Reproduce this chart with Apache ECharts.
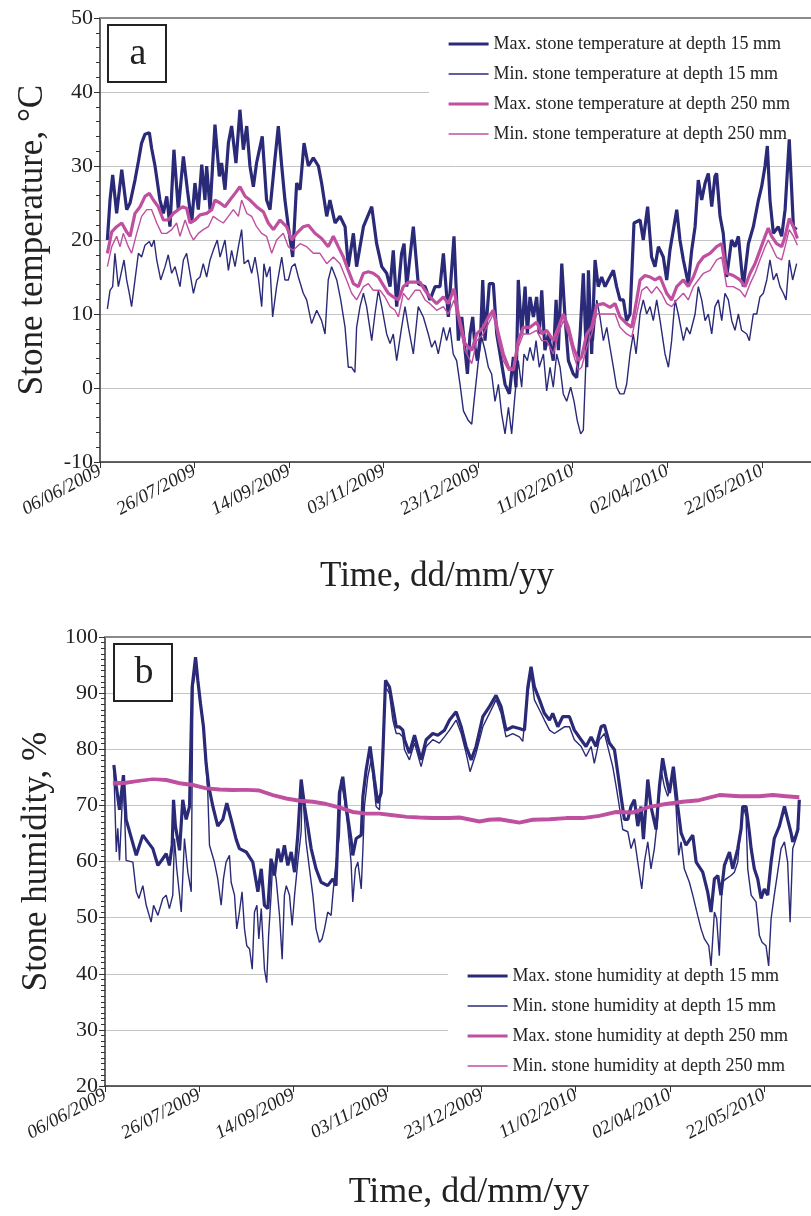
<!DOCTYPE html>
<html>
<head>
<meta charset="utf-8">
<script src="https://cdn.jsdelivr.net/npm/echarts@6/dist/echarts.min.js"></script>
<style>
  html, body { margin: 0; padding: 0; background: #fff; }
  #chart { width: 811px; height: 1216px; }
</style>
</head>
<body>
<div id="chart"></div>
<script>
// Day 0 = 06/06/2009; x values are days since that date.
const dateTicks = ['06/06/2009', '26/07/2009', '14/09/2009', '03/11/2009',
                   '23/12/2009', '11/02/2010', '02/04/2010', '22/05/2010'];

const tempNames = ['Max. stone temperature at depth 15 mm', 'Min. stone temperature at depth 15 mm',
                   'Max. stone temperature at depth 250 mm', 'Min. stone temperature at depth 250 mm'];
const humNames = ['Max. stone humidity at depth 15 mm', 'Min. stone humidity at depth 15 mm',
                  'Max. stone humidity at depth 250 mm', 'Min. stone humidity at depth 250 mm'];

// Stone temperature, °C  [day, value]
const tempMax15 = [[3.9,20.0],[5.3,25.4],[6.7,28.8],[8.8,23.6],[11.5,29.5],[14.1,24.1],[15.9,25.0],[18.5,28.1],[20.3,30.6],[22.0,33.1],[23.8,34.3],[26.1,34.5],[27.3,32.4],[29.1,30.0],[31.7,25.4],[33.5,23.6],[35.3,25.9],[37.0,21.8],[39.1,32.2],[41.4,24.1],[44.1,31.3],[46.2,26.8],[48.5,22.3],[50.2,27.7],[52.0,24.1],[53.8,30.2],[55.5,25.4],[56.4,30.0],[58.2,24.1],[60.8,35.6],[63.1,28.6],[64.3,30.4],[66.1,26.8],[67.9,33.1],[69.6,35.4],[71.9,30.4],[74.0,37.6],[75.8,32.2],[77.6,35.4],[79.3,30.0],[81.1,27.2],[82.8,30.4],[85.8,34.0],[88.1,25.4],[89.9,24.1],[92.5,30.9],[94.3,35.4],[96.1,30.0],[97.8,25.4],[99.6,21.8],[101.9,17.7],[104.0,27.7],[105.8,26.8],[107.9,33.1],[110.2,30.0],[112.8,31.1],[115.5,30.0],[117.2,27.7],[119.9,23.2],[121.6,25.4],[124.3,22.3],[126.9,23.2],[129.6,21.8],[131.3,16.4],[134.0,20.9],[135.7,16.4],[139.3,21.8],[143.7,24.5],[146.3,19.5],[149.0,16.4],[151.6,15.5],[153.4,13.7],[155.1,18.6],[156.9,11.0],[159.5,18.2],[160.8,19.5],[162.2,13.7],[165.7,21.8],[168.3,14.1],[171.9,13.7],[174.5,11.9],[177.2,13.7],[179.8,13.7],[181.6,18.2],[184.2,9.6],[187.2,20.5],[189.5,6.4],[191.3,9.6],[194.3,1.9],[195.7,7.3],[197.1,9.6],[198.3,5.5],[199.6,3.7],[201.3,7.3],[202.4,14.6],[203.6,6.4],[205.9,14.1],[208.0,14.1],[209.8,7.3],[214.2,0.5],[216.5,-0.8],[218.6,4.2],[220.0,0.1],[221.2,14.6],[223.0,7.3],[224.8,13.7],[226.0,7.3],[227.4,12.3],[229.2,9.6],[230.9,12.3],[232.3,7.3],[233.6,13.2],[235.3,5.1],[237.1,7.3],[239.7,3.7],[241.2,11.9],[242.4,5.1],[244.2,16.8],[245.9,9.6],[247.7,3.7],[250.3,1.9],[252.1,1.4],[253.9,7.3],[255.6,15.5],[257.4,2.8],[258.3,15.9],[260.0,4.6],[261.8,17.3],[263.5,13.7],[265.3,15.0],[267.1,13.7],[268.8,14.6],[271.5,15.9],[273.2,13.7],[275.0,11.9],[276.8,11.9],[278.5,9.1],[280.3,10.0],[282.4,22.3],[285.6,22.7],[287.3,20.0],[289.6,24.5],[291.7,17.7],[293.5,16.4],[295.3,19.1],[297.9,17.7],[299.7,14.6],[301.4,18.6],[305.0,24.1],[306.7,20.0],[308.5,17.3],[311.1,14.1],[312.9,18.6],[314.7,21.8],[316.4,28.1],[318.2,25.4],[320.0,27.7],[321.7,29.0],[323.5,24.5],[325.2,28.6],[326.1,29.0],[327.9,23.2],[329.6,20.9],[331.4,15.0],[334.0,20.0],[335.8,19.1],[337.6,20.5],[340.2,13.7],[342.9,19.5],[345.5,21.8],[348.2,25.4],[349.9,27.2],[351.7,30.0],[352.9,32.7],[354.3,25.4],[356.1,20.9],[358.7,21.8],[360.5,20.5],[362.3,24.1],[364.5,33.6],[366.7,21.8],[368.4,21.4]];

const tempMin15 = [[3.9,10.7],[5.3,13.2],[6.7,13.7],[7.9,18.2],[9.7,13.7],[11.5,15.9],[12.7,17.3],[14.1,14.6],[15.5,12.8],[16.7,11.0],[18.5,14.6],[20.3,18.2],[22.0,17.7],[23.8,19.3],[26.1,19.8],[27.3,19.1],[28.6,20.0],[30.0,17.3],[32.1,14.6],[34.4,16.4],[36.1,18.0],[37.9,15.5],[39.7,16.4],[42.3,13.7],[44.1,17.3],[45.8,18.2],[47.6,15.5],[49.4,12.8],[51.1,14.6],[52.9,15.0],[54.6,16.8],[56.4,15.0],[58.2,17.3],[59.9,18.6],[62.0,20.0],[63.5,17.7],[66.1,20.0],[67.9,15.9],[69.6,18.6],[71.4,16.4],[73.2,19.1],[74.9,21.4],[76.2,16.8],[78.4,17.3],[80.2,15.5],[82.0,17.7],[83.7,15.0],[85.5,11.0],[86.7,16.8],[88.1,15.0],[89.9,16.4],[91.3,9.6],[93.4,13.7],[96.1,17.7],[97.8,14.6],[99.6,14.6],[101.4,16.4],[103.1,16.8],[104.9,15.0],[107.5,12.8],[109.3,11.9],[111.9,8.7],[114.6,10.5],[117.2,9.1],[119.0,7.3],[120.7,14.6],[122.5,16.4],[125.2,14.6],[127.3,11.9],[129.6,8.2],[131.3,2.8],[133.1,2.8],[134.8,2.1],[135.7,8.2],[137.5,11.0],[139.3,12.8],[141.0,11.0],[143.7,6.4],[145.4,10.0],[147.2,13.2],[149.0,11.0],[151.6,7.3],[153.4,6.0],[155.1,7.3],[156.9,3.7],[159.5,8.2],[161.3,11.0],[163.1,8.2],[165.7,4.6],[168.3,11.0],[171.0,9.6],[173.6,7.3],[175.4,5.5],[177.2,6.4],[178.9,4.6],[181.6,8.2],[183.3,6.4],[185.1,8.2],[186.8,4.6],[188.6,3.7],[190.4,0.5],[192.2,-3.1],[194.8,-4.4],[196.6,-4.9],[197.8,-1.8],[200.1,3.7],[201.8,6.9],[203.6,5.1],[205.4,2.8],[207.1,1.9],[208.9,-1.8],[210.7,0.5],[212.4,-3.5],[214.2,-6.2],[216.0,-2.6],[217.7,-6.2],[219.5,-0.8],[221.2,3.7],[223.0,0.1],[224.2,4.6],[226.0,3.7],[227.4,5.5],[229.2,3.7],[230.6,6.4],[232.3,2.8],[234.5,4.6],[236.2,-0.4],[238.0,2.8],[239.7,0.1],[241.5,4.6],[243.3,2.8],[245.0,-0.8],[246.8,-1.8],[248.9,0.1],[250.7,-1.8],[252.4,-4.4],[254.2,-6.2],[255.6,-5.7],[257.4,6.4],[259.1,8.2],[260.9,6.4],[262.7,11.9],[264.4,9.6],[266.2,6.4],[268.0,8.2],[269.7,5.5],[271.5,2.8],[273.2,0.1],[275.0,-0.8],[277.1,-0.8],[278.5,0.5],[280.3,4.6],[282.0,7.3],[283.5,4.6],[285.6,10.0],[287.3,11.9],[289.1,10.0],[290.9,11.0],[292.6,9.1],[294.4,11.9],[296.2,9.1],[298.8,4.6],[300.6,2.8],[302.3,6.4],[304.1,11.9],[305.8,10.0],[308.5,6.4],[310.2,8.2],[312.0,7.3],[314.7,10.0],[316.4,13.7],[318.2,11.9],[320.0,9.1],[321.7,10.0],[323.5,7.3],[325.2,11.0],[327.0,11.9],[328.8,9.1],[330.5,12.8],[332.3,11.9],[334.1,9.1],[335.8,7.8],[337.6,10.0],[339.3,7.8],[342.0,7.3],[343.4,6.4],[345.5,10.0],[347.3,10.0],[349.0,12.3],[350.8,12.8],[352.6,14.6],[354.3,17.3],[356.1,14.6],[357.8,15.5],[359.6,13.7],[361.4,12.8],[362.8,11.9],[364.5,17.3],[366.3,14.6],[368.4,16.8]];

const tempMax250 = [[3.9,18.2],[6.2,21.1],[8.8,21.8],[11.5,22.3],[14.1,21.1],[15.9,20.5],[18.5,23.6],[21.2,24.5],[23.8,25.9],[26.1,26.3],[28.2,25.4],[30.8,24.5],[33.5,22.7],[36.1,22.7],[38.8,23.6],[41.4,24.1],[43.7,24.5],[45.8,24.3],[47.6,22.3],[50.2,22.7],[52.9,23.4],[56.4,23.6],[59.1,24.1],[60.8,25.4],[63.5,25.0],[66.1,24.5],[68.7,25.4],[71.4,26.3],[74.0,27.2],[76.7,25.9],[79.3,25.4],[82.8,24.5],[86.4,23.8],[89.0,22.3],[91.7,21.4],[95.2,22.7],[98.7,21.8],[101.4,20.0],[104.0,20.9],[107.5,21.8],[110.2,22.0],[113.7,20.9],[117.2,20.2],[120.7,19.1],[123.4,20.5],[126.0,19.1],[128.7,17.7],[131.3,15.9],[134.0,14.1],[136.6,13.7],[139.3,15.5],[141.9,15.7],[144.5,15.5],[147.2,15.0],[149.8,13.9],[152.5,12.8],[155.1,12.3],[157.8,11.9],[160.4,13.7],[163.1,14.3],[166.6,14.3],[169.2,14.3],[171.9,13.2],[174.5,12.3],[178.0,11.4],[181.6,12.3],[184.2,11.4],[187.2,13.4],[189.5,10.0],[193.0,6.0],[196.6,5.1],[199.2,7.3],[202.7,8.2],[205.4,9.6],[208.0,10.5],[210.7,7.3],[213.3,4.6],[216.0,2.8],[218.6,2.4],[221.2,6.4],[223.9,8.2],[227.4,8.2],[230.9,8.9],[233.6,7.3],[236.2,7.8],[239.7,6.4],[242.4,8.2],[245.0,10.0],[247.7,8.2],[250.3,5.5],[253.0,3.7],[254.7,4.2],[257.4,7.3],[260.0,8.2],[262.7,11.2],[266.2,11.4],[269.7,10.9],[272.4,11.4],[275.0,9.6],[278.5,8.7],[281.2,8.2],[283.8,11.9],[285.6,14.6],[288.2,15.2],[290.9,15.0],[293.5,14.6],[296.2,15.0],[299.7,12.8],[302.3,11.9],[305.0,13.7],[308.5,14.6],[311.1,13.7],[313.8,15.0],[316.4,16.8],[319.1,17.7],[322.6,18.2],[326.1,19.1],[328.8,19.5],[331.4,15.5],[334.9,15.2],[338.5,14.6],[341.1,13.7],[343.8,15.5],[346.4,16.8],[349.0,18.6],[351.7,20.5],[353.4,21.6],[355.2,20.5],[357.8,19.5],[360.5,19.1],[362.3,20.5],[364.5,22.9],[366.7,21.8],[368.8,20.2]];

const tempMin250 = [[3.9,16.4],[6.2,19.1],[8.8,20.5],[10.6,19.1],[12.3,20.9],[15.0,19.1],[16.7,18.2],[19.4,20.9],[22.0,23.2],[24.7,24.1],[27.3,24.1],[30.0,22.3],[32.6,20.9],[35.3,20.9],[37.9,21.4],[40.5,22.3],[42.3,20.5],[45.0,22.7],[47.6,20.9],[49.4,20.0],[52.0,20.9],[54.6,21.4],[57.3,21.8],[59.9,23.2],[62.6,22.7],[65.2,22.3],[67.9,23.2],[70.5,24.1],[73.2,23.2],[74.9,25.4],[77.6,23.6],[80.2,23.2],[82.8,21.8],[85.5,20.9],[88.1,20.5],[90.8,18.2],[93.4,20.0],[96.9,20.9],[99.6,19.1],[102.2,18.6],[105.8,19.5],[109.3,19.1],[112.8,18.2],[116.3,18.2],[119.9,16.8],[123.4,17.7],[126.9,16.8],[130.4,14.6],[133.1,12.8],[135.7,11.9],[139.3,13.7],[141.9,14.1],[144.5,13.2],[148.1,13.2],[150.7,12.3],[153.4,11.0],[156.0,10.5],[157.8,9.6],[160.4,12.8],[163.1,11.9],[166.6,13.2],[169.2,13.2],[171.9,11.9],[174.5,11.4],[178.0,10.5],[181.6,11.0],[184.2,10.0],[187.2,11.9],[189.5,9.1],[193.0,5.1],[196.6,3.3],[199.2,6.4],[202.7,7.3],[205.4,8.7],[208.0,10.0],[210.7,6.4],[213.3,3.7],[216.0,2.4],[218.6,2.4],[221.2,5.5],[223.9,7.3],[227.4,7.3],[230.9,7.8],[233.6,6.4],[236.2,6.4],[239.7,4.6],[242.4,7.3],[245.0,9.1],[247.7,7.3],[250.3,4.6],[253.0,2.4],[254.7,2.8],[257.4,5.5],[260.0,7.3],[262.7,10.0],[266.2,10.0],[269.7,10.0],[272.4,10.0],[275.0,8.2],[278.5,7.3],[281.2,6.9],[283.8,10.0],[286.5,13.2],[289.1,13.7],[291.7,12.8],[294.4,13.7],[297.0,12.8],[299.7,11.4],[302.3,11.0],[305.0,11.9],[308.5,12.8],[311.1,11.9],[313.8,13.7],[316.4,14.6],[319.1,15.5],[322.6,15.9],[326.1,17.3],[328.8,17.7],[331.4,13.7],[334.9,13.7],[338.5,13.2],[341.1,12.3],[343.8,14.1],[346.4,15.5],[349.0,17.3],[351.7,19.1],[353.4,20.0],[355.2,19.1],[357.8,17.7],[360.5,17.3],[362.3,19.1],[364.5,21.4],[366.7,20.5],[368.8,19.3]];

// Stone humidity, %  [day, value]
const humMax15 = [[4.7,77.2],[6.0,73.4],[7.7,69.2],[9.8,75.4],[11.2,67.5],[13.9,64.3],[16.6,61.1],[20.1,64.7],[22.7,63.5],[25.4,62.3],[28.1,59.3],[30.7,60.5],[32.5,61.4],[34.2,59.3],[35.7,63.0],[36.4,71.0],[37.4,66.3],[39.6,62.0],[41.3,71.0],[43.1,67.5],[44.9,69.8],[46.3,91.1],[48.1,96.4],[49.3,92.3],[50.7,88.2],[52.3,84.0],[53.7,77.5],[55.1,73.4],[57.3,69.8],[59.9,66.3],[62.6,67.5],[64.7,70.4],[67.0,67.5],[69.7,63.9],[71.4,62.3],[75.0,61.7],[78.5,59.9],[81.2,54.6],[83.0,58.7],[84.7,52.2],[86.5,51.6],[88.2,60.5],[90.0,57.5],[91.8,62.3],[93.6,59.9],[95.3,62.9],[97.1,59.3],[98.9,61.7],[100.7,58.1],[102.4,64.7],[104.2,74.6],[106.0,69.8],[107.7,66.3],[109.5,62.3],[112.1,58.7],[114.8,56.3],[118.3,55.7],[121.0,56.9],[122.7,55.7],[124.5,72.2],[126.3,75.1],[128.1,69.8],[130.7,63.9],[131.6,61.1],[133.4,64.1],[136.1,64.7],[137.0,71.6],[138.7,76.3],[140.8,80.5],[143.1,74.6],[144.9,70.4],[146.7,72.2],[147.6,79.3],[149.0,92.3],[151.1,91.1],[152.9,87.6],[154.7,84.0],[156.4,84.0],[158.2,83.4],[159.1,81.7],[161.7,79.3],[164.4,82.5],[167.9,78.1],[170.6,81.7],[174.1,82.8],[176.8,82.5],[180.3,83.4],[183.0,85.2],[186.5,86.7],[189.2,84.0],[191.8,80.5],[194.5,78.1],[197.1,80.5],[200.7,85.8],[204.2,87.6],[207.7,89.6],[210.4,87.6],[213.0,83.4],[216.6,84.0],[220.1,83.7],[222.8,83.4],[224.6,91.1],[226.3,94.7],[228.1,91.1],[230.8,88.8],[233.4,86.4],[236.1,85.2],[237.8,86.4],[240.5,84.0],[243.1,85.8],[246.7,85.8],[249.3,83.4],[252.9,81.7],[255.5,80.5],[258.2,82.2],[260.8,80.5],[263.5,84.0],[265.3,84.3],[267.9,81.1],[270.6,79.9],[272.4,75.7],[274.1,71.6],[275.9,67.5],[277.7,67.5],[279.4,69.8],[281.2,71.0],[283.0,66.3],[284.7,69.8],[286.0,64.0],[288.3,74.6],[290.0,69.8],[292.7,65.7],[294.5,73.4],[296.2,78.4],[298.0,75.1],[299.8,72.2],[301.9,76.9],[304.2,69.8],[306.0,65.1],[308.6,62.9],[312.2,64.7],[314.0,59.9],[317.5,58.1],[320.1,54.6],[321.9,51.0],[323.7,56.9],[325.5,57.5],[327.2,54.0],[329.0,59.3],[331.7,61.7],[333.4,58.7],[336.1,62.3],[337.9,65.9],[338.7,69.8],[340.5,69.8],[342.3,65.1],[343.2,62.3],[344.9,58.7],[346.7,56.9],[348.5,53.4],[350.2,55.1],[352.0,54.0],[353.8,59.9],[355.5,64.1],[358.2,66.3],[360.9,69.8],[362.6,67.5],[364.4,65.1],[365.3,63.5],[367.1,64.7],[368.0,65.7],[368.8,71.0]];

const humMin15 = [[4.7,76.5],[6.0,61.7],[6.8,65.9],[7.7,60.2],[9.8,75.4],[11.2,60.2],[14.8,59.9],[16.6,54.6],[18.0,53.4],[20.1,55.7],[21.9,52.2],[24.5,49.2],[25.8,52.2],[28.1,50.4],[30.7,53.4],[32.5,54.0],[34.2,51.6],[36.0,54.0],[36.9,64.1],[38.1,58.7],[39.6,54.0],[40.5,51.0],[42.2,64.1],[44.0,58.1],[45.8,54.6],[46.7,91.1],[48.5,94.7],[50.2,89.3],[52.0,85.2],[53.4,78.1],[54.6,72.2],[55.5,62.9],[58.1,59.9],[59.9,56.9],[61.7,52.2],[62.9,56.9],[64.3,59.9],[66.1,61.1],[67.0,56.3],[68.8,54.0],[70.0,48.0],[71.4,51.0],[72.8,54.6],[74.1,48.0],[75.3,45.0],[76.8,44.4],[78.2,40.8],[79.4,51.0],[80.7,52.2],[81.7,46.2],[83.0,51.6],[84.7,40.8],[85.9,38.4],[86.9,46.8],[88.2,54.0],[89.1,59.9],[90.9,56.9],[92.7,50.4],[94.1,42.6],[95.3,54.0],[96.3,55.7],[98.0,54.0],[99.4,48.6],[100.7,54.0],[102.4,59.9],[104.2,65.3],[104.7,73.4],[106.0,67.5],[106.8,63.5],[108.6,58.7],[110.4,54.0],[112.1,48.0],[113.9,45.6],[115.3,46.2],[116.6,48.0],[118.3,51.0],[120.1,50.4],[121.0,54.0],[122.7,59.9],[124.5,64.7],[125.4,74.6],[127.2,71.0],[128.9,66.3],[130.7,59.9],[131.6,52.8],[133.0,58.7],[134.3,59.9],[136.1,55.1],[137.0,62.3],[137.8,69.8],[139.6,75.1],[141.4,78.1],[144.0,69.8],[145.8,69.2],[147.2,78.1],[149.0,91.1],[151.1,89.9],[152.9,85.2],[154.7,82.8],[156.4,82.8],[158.2,82.2],[159.1,79.9],[161.7,78.1],[164.4,81.1],[167.9,76.9],[170.6,80.5],[174.1,81.7],[177.6,81.1],[180.3,82.2],[183.0,83.4],[186.5,85.2],[189.2,82.8],[191.8,79.3],[193.9,76.0],[197.1,79.3],[200.7,84.0],[204.2,86.4],[207.7,88.8],[210.4,86.4],[213.0,82.2],[216.6,82.8],[220.1,82.2],[221.9,81.4],[224.2,89.3],[226.3,93.5],[228.1,88.8],[230.8,87.0],[233.4,85.2],[236.1,83.4],[238.7,82.8],[241.4,83.4],[244.0,84.0],[246.7,84.0],[249.3,81.7],[252.9,80.5],[255.5,78.7],[258.2,80.5],[259.9,77.5],[262.6,81.7],[265.3,82.8],[267.9,79.3],[269.7,76.9],[271.5,73.4],[273.2,69.8],[275.0,65.7],[277.7,65.3],[279.4,62.3],[281.2,64.1],[283.0,59.9],[285.1,55.1],[286.5,59.9],[288.3,63.5],[290.0,58.7],[291.8,62.3],[293.6,68.0],[295.4,76.3],[297.1,73.4],[298.9,71.6],[301.6,75.1],[303.3,69.8],[304.7,61.1],[306.0,63.5],[307.7,58.7],[310.4,56.3],[312.2,54.0],[314.8,50.4],[316.6,48.0],[318.4,46.2],[320.7,45.0],[321.9,41.4],[323.7,51.0],[324.9,49.8],[326.3,43.2],[327.8,56.3],[329.9,56.9],[332.5,57.5],[334.3,58.1],[336.1,59.9],[337.3,64.7],[339.1,69.8],[340.5,68.0],[341.4,58.7],[343.2,54.0],[345.8,52.8],[347.6,46.8],[349.0,45.6],[351.1,45.0],[352.5,41.4],[353.8,49.8],[355.5,54.0],[357.3,58.1],[359.1,62.3],[360.9,63.5],[362.6,59.9],[363.9,49.2],[365.3,62.3],[367.1,64.1],[368.5,65.9]];

const humMax250 = [[4.2,74.0],[11.2,74.1],[18.3,74.4],[25.4,74.7],[32.5,74.6],[39.6,74.0],[46.7,73.7],[53.7,73.1],[60.8,72.9],[67.9,72.8],[75.0,72.8],[82.0,72.7],[89.1,71.9],[96.2,71.3],[103.3,70.9],[110.4,70.7],[117.5,70.3],[124.5,69.7],[131.6,68.9],[138.7,68.6],[145.8,68.6],[152.9,68.3],[160.0,68.0],[167.0,67.9],[174.1,67.8],[182.9,67.8],[188.3,67.9],[193.0,67.6],[198.9,67.2],[204.0,67.5],[209.5,67.6],[215.0,67.3],[220.1,67.0],[227.2,67.5],[236.1,67.6],[244.9,67.8],[253.8,67.8],[262.6,68.2],[271.5,68.9],[280.3,68.8],[289.2,69.8],[298.0,70.3],[306.9,70.7],[315.7,71.0],[326.3,71.9],[337.0,71.7],[347.6,71.7],[354.7,71.9],[361.7,71.7],[368.8,71.5]];

const humMin250 = [[4.2,73.6],[11.2,73.8],[18.3,74.2],[25.4,74.5],[32.5,74.3],[39.6,73.7],[46.7,73.4],[53.7,72.8],[60.8,72.6],[67.9,72.5],[75.0,72.6],[82.0,72.4],[89.1,71.6],[96.2,71.0],[103.3,70.6],[110.4,70.4],[117.5,70.0],[124.5,69.4],[131.6,68.6],[138.7,68.3],[145.8,68.3],[152.9,68.0],[160.0,67.8],[167.0,67.6],[174.1,67.5],[182.9,67.5],[188.3,67.6],[193.0,67.3],[198.9,66.9],[204.0,67.2],[209.5,67.3],[215.0,67.0],[220.1,66.7],[227.2,67.2],[236.1,67.3],[244.9,67.5],[253.8,67.5],[262.6,67.9],[271.5,68.6],[280.3,68.5],[289.2,69.5],[298.0,70.0],[306.9,70.4],[315.7,70.7],[326.3,71.6],[337.0,71.4],[347.6,71.4],[354.7,71.6],[361.7,71.4],[368.8,71.2]];

const NAVY = '#2a2a78';
const MAGENTA = '#bf4f9f';
const THICK = 3.2;
const THIN = 1.4;
const SERIF = '"Liberation Serif", "Times New Roman", serif';
const INK = '#222';

function dateLabel(v) {
  return v % 50 === 0 ? (dateTicks[v / 50] || '') : '';
}

function bottomAxis(grid, max) {
  return {
    gridIndex: grid, type: 'value', min: 0, max: max, interval: 50,
    axisLine: { show: true, onZero: false, lineStyle: { color: '#333', width: 1.5 } },
    axisTick: { show: true, length: 6, lineStyle: { color: '#333' } },
    axisLabel: { rotate: 28, margin: 8, fontFamily: SERIF, fontStyle: 'italic', fontSize: 19,
                 color: INK, formatter: dateLabel, showMaxLabel: false },
    splitLine: { show: false }
  };
}
// Plain frame line along the top edge of each plot
function topBorder(grid, max) {
  return {
    gridIndex: grid, type: 'value', position: 'top', min: 0, max: max,
    axisLine: { show: true, onZero: false, lineStyle: { color: '#8a8a8a', width: 2 } },
    axisTick: { show: false }, axisLabel: { show: false }, splitLine: { show: false }
  };
}
function valueAxis(grid, min, max, minorSplits, title) {
  return {
    gridIndex: grid, type: 'value', min: min, max: max, interval: 10,
    name: title, nameLocation: 'middle', nameGap: 50,
    nameTextStyle: { fontFamily: SERIF, fontSize: 35, color: INK },
    axisLine: { show: true, onZero: false, lineStyle: { color: '#333', width: 1.5 } },
    axisTick: { show: true, length: 6, lineStyle: { color: '#333' } },
    minorTick: { show: true, splitNumber: minorSplits, length: 4, lineStyle: { color: '#333' } },
    axisLabel: { fontFamily: SERIF, fontSize: 22, color: INK, margin: 7 },
    splitLine: { show: true, lineStyle: { color: '#c4c4c4', width: 1 } }
  };
}
function line(name, data, color, width, axis) {
  return {
    name: name, type: 'line', data: data, xAxisIndex: axis, yAxisIndex: axis,
    symbol: 'none', showSymbol: false, silent: true, smooth: false,
    lineStyle: { color: color, width: width }, itemStyle: { color: color }
  };
}
// Legend keys show only the line stroke (no marker)
function legend(names, left, top) {
  const widths = [THICK, THIN, THICK, THIN];
  const colors = [NAVY, NAVY, MAGENTA, MAGENTA];
  return {
    data: names.map((n, i) => ({ name: n, lineStyle: { width: widths[i], color: colors[i] } })),
    orient: 'vertical', left: left, top: top,
    itemWidth: 40, itemHeight: 14, itemGap: 12,
    padding: [6, 26, 6, 18], backgroundColor: '#fff', z: 1,
    selectedMode: false,
    itemStyle: { opacity: 0 },
    textStyle: { fontFamily: SERIF, fontSize: 18, color: INK, lineHeight: 18 }
  };
}
function panelTag(letter, x, y) {
  return [
    { type: 'rect', shape: { x: x, y: y, width: 58, height: 57 },
      style: { fill: '#fff', stroke: '#222', lineWidth: 2 }, z: 10 },
    { type: 'text', x: x + 30, y: y + 29, z: 11,
      style: { text: letter, fontFamily: SERIF, fontSize: 38, fill: INK,
               align: 'center', verticalAlign: 'middle' } }
  ];
}

const chart = echarts.init(document.getElementById('chart'));
chart.setOption({
  animation: false,
  backgroundColor: '#fff',
  grid: [
    { left: 100, top: 18, right: 0, height: 444 },
    { left: 105, top: 637, right: 0, height: 449 }
  ],
  xAxis: [bottomAxis(0, 376), bottomAxis(1, 375), topBorder(0, 376), topBorder(1, 375)],
  yAxis: [
    valueAxis(0, -10, 50, 5, 'Stone temperature, °C'),
    valueAxis(1, 20, 100, 10, 'Stone humidity, %')
  ],
  legend: [legend(tempNames, 429, 29), legend(humNames, 448, 961)],
  graphic: [
    ...panelTag('a', 108, 25),
    ...panelTag('b', 114, 644),
    { type: 'text', x: 437, y: 577,
      style: { text: 'Time, dd/mm/yy', fontFamily: SERIF, fontSize: 35, fill: INK,
               align: 'center', verticalAlign: 'middle' } },
    { type: 'text', x: 469, y: 1193,
      style: { text: 'Time, dd/mm/yy', fontFamily: SERIF, fontSize: 36, fill: INK,
               align: 'center', verticalAlign: 'middle' } }
  ],
  series: [
    line(tempNames[0], tempMax15, NAVY, THICK, 0),
    line(tempNames[1], tempMin15, NAVY, THIN, 0),
    line(tempNames[2], tempMax250, MAGENTA, THICK, 0),
    line(tempNames[3], tempMin250, MAGENTA, THIN, 0),
    line(humNames[0], humMax15, NAVY, THICK, 1),
    line(humNames[1], humMin15, NAVY, THIN, 1),
    line(humNames[2], humMax250, MAGENTA, THICK, 1),
    line(humNames[3], humMin250, MAGENTA, THIN, 1)
  ]
});
</script>
</body>
</html>
